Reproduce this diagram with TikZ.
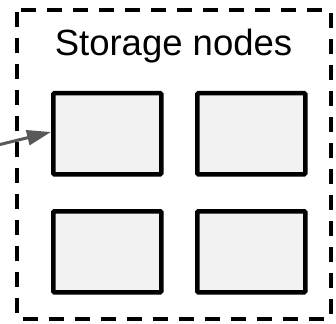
\documentclass[tikz,border=0pt]{standalone}
\usepackage{fontspec}
\setmainfont{Liberation Sans}
\usetikzlibrary{arrows.meta}
\begin{document}
\begin{tikzpicture}[x=1pt,y=-1pt,
  cell/.style={draw=black,fill=gray!10,line width=4.5pt,rounded corners=1pt,
    minimum width=108pt,minimum height=81pt,inner sep=0pt,anchor=north west},
  group/.style={draw=black,line width=4.5pt,dash pattern=on 15pt off 11pt,rounded corners=2pt},
  feed/.style={draw=black!65,line width=3pt,-{Triangle[length=24pt,width=15pt]}}]
\useasboundingbox (0,0) rectangle (336,323);
% dashed enclosure of the storage group
\draw[group] (17,10) rectangle (331,319);
\node[font=\fontsize{36.5}{38}\selectfont,anchor=base] (title) at (173.5,56) {Storage nodes};
% the four storage nodes
\node[cell] (n1) at (51,91) {};
\node[cell] (n2) at (195,91) {};
\node[cell] (n3) at (51,209) {};
\node[cell] (n4) at (195,209) {};
% incoming connector
\coordinate (src) at (-2,145);
\draw[feed] (src) -- (n1.west |- 0,132);
\end{tikzpicture}
\end{document}
